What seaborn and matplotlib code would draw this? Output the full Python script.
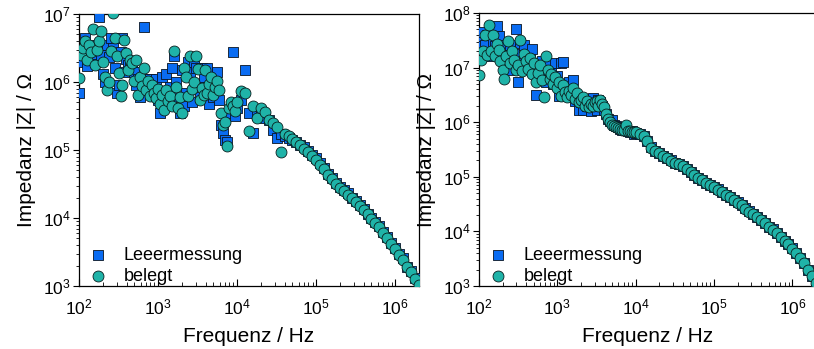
import matplotlib
matplotlib.use("Agg")
import matplotlib.pyplot as plt
import pandas as pd
import seaborn as sns
from matplotlib.ticker import LogLocator, LogFormatterSciNotation, NullFormatter

# Frequency sweep shared by all measurements (Hz)
freq_hz = [
    100, 106, 112, 119, 126, 133, 141, 150, 158, 168,
    178, 188, 200, 211, 224, 237, 251, 266, 282, 299,
    316, 335, 355, 376, 398, 422, 447, 473, 501, 531,
    562, 596, 631, 668, 708, 750, 794, 841, 891, 944,
    1000, 1060, 1120, 1190, 1260, 1330, 1410, 1500, 1580, 1680,
    1780, 1880, 2000, 2110, 2240, 2370, 2510, 2660, 2820, 2990,
    3160, 3350, 3550, 3760, 3980, 4220, 4470, 4730, 5010, 5310,
    5620, 5960, 6310, 6680, 7080, 7500, 7940, 8410, 8910, 9440,
    1.00e4, 1.12e4, 1.26e4, 1.41e4, 1.58e4, 1.78e4, 2.00e4, 2.24e4, 2.51e4, 2.82e4,
    3.16e4, 3.55e4, 3.98e4, 4.47e4, 5.01e4, 5.62e4, 6.31e4, 7.08e4, 7.94e4, 8.91e4,
    1.00e5, 1.12e5, 1.26e5, 1.41e5, 1.58e5, 1.78e5, 2.00e5, 2.24e5, 2.51e5, 2.82e5,
    3.16e5, 3.55e5, 3.98e5, 4.47e5, 5.01e5, 5.62e5, 6.31e5, 7.08e5, 7.94e5, 8.91e5,
    1.00e6, 1.12e6, 1.26e6, 1.41e6, 1.58e6, 1.78e6, 2.00e6,
]

# Left cell: impedance |Z| in Ohm
z_leer_left = [
    7.0e5, 2.0e6, 3.0e6, 4.5e6, 1.7e6, 2.6e6, 3.3e6, 2.2e6, 2.6e6, 3.5e6,
    9.0e6, 2.5e6, 1.3e6, 1.0e6, 3.5e6, 2.3e6, 4.5e6, 3.2e6, 1.6e6, 7.0e5,
    9.0e5, 2.8e6, 4.4e6, 1.4e6, 2.2e6, 1.8e6, 1.6e6, 2.0e6, 1.4e6, 9.0e5,
    1.1e6, 6.0e5, 1.1e6, 6.5e6, 1.1e6, 8.0e5, 1.1e6, 6.5e5, 1.0e6, 1.1e6,
    5.5e5, 3.5e5, 1.2e6, 7.0e5, 1.3e6, 5.0e5, 8.5e5, 1.6e6, 2.4e6, 1.0e6,
    6.0e5, 3.5e5, 1.5e6, 4.5e5, 7.0e5, 2.0e6, 1.4e6, 5.0e5, 2.0e6, 1.6e6,
    9.0e5, 6.0e5, 1.6e6, 1.2e6, 7.0e5, 1.6e6, 4.8e5, 9.0e5, 6.0e5, 1.0e6,
    1.4e6, 5.5e5, 2.3e5, 1.8e5, 1.4e5, 1.3e5, 3.5e5, 4.5e5, 2.8e6, 3.2e5,
    4.2e5, 5.5e5, 1.5e6, 3.5e5, 1.8e5, 3.3e5, 3.4e5, 3.0e5, 2.8e5, 2.0e5,
    1.5e5, 1.7e5, 1.6e5, 1.5e5, 1.4e5, 1.3e5, 1.2e5, 1.1e5, 9.8e4, 8.5e4,
    7.5e4, 6.4e4, 5.5e4, 4.5e4, 3.9e4, 3.3e4, 2.9e4, 2.6e4, 2.3e4, 2.0e4,
    1.75e4, 1.55e4, 1.35e4, 1.15e4, 1.0e4, 8.7e3, 7.5e3, 6.2e3, 5.2e3, 4.3e3,
    3.6e3, 3.0e3, 2.6e3, 1.9e3, 1.65e3, 1.3e3, 1.1e3,
]
z_beleg_left = [
    1.15e6, 2.5e6, 3.2e6, 4.0e6, 2.1e6, 3.5e6, 2.8e6, 6.0e6, 1.8e6, 3.0e6,
    4.0e6, 5.6e6, 2.0e6, 1.2e6, 7.5e5, 1.0e6, 2.9e6, 1.05e7, 4.5e6, 2.4e6,
    1.35e6, 6.3e5, 9.0e5, 4.2e6, 2.7e6, 1.5e6, 2.1e6, 1.9e6, 1.05e6, 2.1e6,
    6.5e5, 1.2e6, 8.8e5, 1.6e6, 7.5e5, 1.05e6, 6.2e5, 9.0e5, 7.0e5, 5.8e5,
    8.0e5, 4.8e5, 6.5e5, 3.9e5, 7.5e5, 5.2e5, 6.2e5, 4.5e5, 2.9e6, 8.5e5,
    4.2e5, 6.0e5, 3.5e5, 1.6e6, 1.2e6, 6.2e5, 2.4e6, 8.0e5, 1.0e6, 2.4e6,
    1.55e6, 5.5e5, 8.2e5, 6.5e5, 1.5e6, 7.0e5, 9.5e5, 1.2e6, 6.5e5, 8.5e5,
    1.05e6, 7.5e5, 3.5e5, 2.3e5, 2.6e5, 1.15e5, 4.2e5, 5.0e5, 4.5e5, 3.8e5,
    5.0e5, 7.3e5, 7.0e5, 1.9e5, 4.5e5, 3.0e5, 4.2e5, 3.6e5, 2.8e5, 2.5e5,
    2.2e5, 9.3e4, 1.7e5, 1.6e5, 1.45e5, 1.3e5, 1.18e5, 1.05e5, 9.5e4, 8.2e4,
    7.2e4, 6.1e4, 5.3e4, 4.3e4, 3.7e4, 3.2e4, 2.8e4, 2.5e4, 2.2e4, 1.95e4,
    1.7e4, 1.5e4, 1.3e4, 1.13e4, 9.8e3, 8.5e3, 7.3e3, 6.1e3, 5.1e3, 4.2e3,
    3.5e3, 2.9e3, 2.4e3, 1.9e3, 1.6e3, 1.25e3, 1.05e3,
]

# Right cell: impedance |Z| in Ohm
z_leer_right = [
    3.5e7, 2.5e7, 4.5e7, 2.6e7, 4.0e7, 1.6e7, 4.5e7, 3.0e7, 2.5e7, 5.9e7,
    3.8e7, 2.0e7, 2.6e7, 1.6e7, 1.0e7, 1.3e7, 2.6e7, 9.0e6, 1.8e7, 5.1e7,
    5.5e6, 2.8e7, 1.2e7, 2.6e7, 1.6e7, 1.0e7, 1.7e7, 2.2e7, 8.0e6, 3.2e6,
    1.1e7, 6.5e6, 1.3e7, 8.5e6, 5.5e6, 1.1e7, 7.0e6, 8.0e6, 5.0e6, 1.2e7,
    7.0e6, 3.0e6, 1.2e7, 1.25e7, 4.5e6, 3.3e6, 5.5e6, 4.0e6, 6.0e6, 2.4e6,
    2.8e6, 1.7e6, 2.3e6, 1.7e6, 2.6e6, 2.0e6, 2.7e6, 1.6e6, 2.8e6, 2.2e6,
    1.7e6, 2.5e6, 2.3e6, 2.0e6, 1.7e6, 1.4e6, 1.15e6, 1.05e6, 1.1e6, 9.0e5,
    8.6e5, 8.0e5, 7.6e5, 7.2e5, 7.5e5, 7.1e5, 7.0e5, 6.6e5, 6.8e5, 6.2e5,
    6.4e5, 6.1e5, 5.6e5, 4.6e5, 3.5e5, 3.0e5, 2.7e5, 2.45e5, 2.2e5, 2.0e5,
    1.8e5, 1.7e5, 1.55e5, 1.4e5, 1.23e5, 1.1e5, 9.7e4, 8.7e4, 7.8e4, 7.1e4,
    6.6e4, 5.9e4, 5.3e4, 4.7e4, 4.2e4, 3.8e4, 3.4e4, 3.0e4, 2.65e4, 2.35e4,
    2.1e4, 1.85e4, 1.6e4, 1.42e4, 1.22e4, 1.1e4, 9.3e3, 7.9e3, 6.7e3, 5.8e3,
    4.9e3, 4.0e3, 3.3e3, 2.6e3, 2.0e3, 1.5e3, 1.15e3,
]
z_beleg_right = [
    7.2e6, 1.4e7, 2.0e7, 4.0e7, 1.7e7, 6.0e7, 2.0e7, 4.0e7, 1.6e7, 2.7e7,
    2.1e7, 1.3e7, 9.0e6, 6.3e6, 1.6e7, 3.1e7, 1.2e7, 2.0e7, 1.4e7, 9.0e6,
    1.1e7, 3.2e7, 8.5e6, 1.8e7, 1.3e7, 9.5e6, 1.5e7, 7.5e6, 1.2e7, 5.5e6,
    8.0e6, 1.1e7, 6.0e6, 2.9e6, 1.6e7, 9.0e6, 6.2e6, 7.5e6, 5.0e6, 6.8e6,
    4.2e6, 5.5e6, 3.0e6, 4.8e6, 3.6e6, 2.9e6, 3.8e6, 3.2e6, 4.2e6, 2.7e6,
    3.4e6, 2.3e6, 2.6e6, 2.9e6, 2.0e6, 2.4e6, 1.9e6, 2.2e6, 2.0e6, 2.3e6,
    2.4e6, 2.0e6, 2.6e6, 2.2e6, 1.9e6, 1.4e6, 1.15e6, 1.0e6, 9.0e5, 8.5e5,
    8.2e5, 7.8e5, 7.5e5, 7.3e5, 7.2e5, 9.0e5, 7.0e5, 6.8e5, 6.7e5, 6.6e5,
    6.5e5, 6.0e5, 5.5e5, 4.5e5, 3.4e5, 3.0e5, 2.7e5, 2.4e5, 2.2e5, 1.95e5,
    1.8e5, 1.68e5, 1.55e5, 1.38e5, 1.22e5, 1.08e5, 9.6e4, 8.6e4, 7.7e4, 7.1e4,
    6.5e4, 5.8e4, 5.2e4, 4.7e4, 4.2e4, 3.8e4, 3.3e4, 3.0e4, 2.6e4, 2.3e4,
    2.05e4, 1.8e4, 1.6e4, 1.4e4, 1.2e4, 1.08e4, 9.2e3, 7.8e3, 6.6e3, 5.8e3,
    4.8e3, 4.0e3, 3.2e3, 2.6e3, 2.0e3, 1.5e3, 1.15e3,
]

series_names = ["Leeermessung", "belegt"]
x_ticks = [1e2, 1e3, 1e4, 1e5, 1e6]

sns.set_style("ticks")
plt.rcParams["font.family"] = ["Liberation Sans", "DejaVu Sans"]
plt.rcParams["mathtext.fontset"] = "custom"
plt.rcParams["mathtext.rm"] = "Liberation Sans"
plt.rcParams["mathtext.it"] = "Liberation Sans:italic"
plt.rcParams["mathtext.bf"] = "Liberation Sans:bold"
for key in ("text.color", "axes.labelcolor", "xtick.color", "ytick.color", "axes.edgecolor"):
    plt.rcParams[key] = "black"

W, H = 814, 349
fig = plt.figure(figsize=(W / 100, H / 100), dpi=100)

def px_axes(left, top, width, height):
    return fig.add_axes([left / W, (H - top - height) / H, width / W, height / H])

ax_left = px_axes(79, 14, 340, 272)
ax_right = px_axes(479, 13, 337, 273)

panels = [
    (ax_left, z_leer_left, z_beleg_left, (1e3, 1e7)),
    (ax_right, z_leer_right, z_beleg_right, (1e3, 1e8)),
]

for ax, z_leer, z_beleg, ylim in panels:
    df = pd.DataFrame({"f": freq_hz, "leer": z_leer, "beleg": z_beleg})
    sns.scatterplot(data=df, x="f", y="leer", ax=ax, marker="s", s=42,
                    color="#0a6cf2", edgecolor="#0a1422", linewidth=0.6,
                    label=series_names[0], zorder=3, clip_on=True)
    sns.scatterplot(data=df, x="f", y="beleg", ax=ax, marker="o", s=62,
                    color="#1fb3a8", edgecolor="#0a1f1e", linewidth=0.6,
                    label=series_names[1], zorder=4, clip_on=True)
    ax.set_xscale("log")
    ax.set_yscale("log")
    ax.set_xlim(100, 2.0e6)
    ax.set_ylim(*ylim)
    ax.set_xticks(x_ticks)
    ax.xaxis.set_minor_locator(LogLocator(base=10, subs=range(2, 10), numticks=20))
    ax.yaxis.set_major_locator(LogLocator(base=10, numticks=12))
    ax.yaxis.set_minor_locator(LogLocator(base=10, subs=range(2, 10), numticks=20))
    ax.xaxis.set_major_formatter(LogFormatterSciNotation())
    ax.yaxis.set_major_formatter(LogFormatterSciNotation())
    ax.xaxis.set_minor_formatter(NullFormatter())
    ax.yaxis.set_minor_formatter(NullFormatter())
    ax.tick_params(axis="x", which="major", direction="in", length=5, width=0.8,
                   labelsize=12.5, pad=8, top=False, colors="black")
    ax.tick_params(axis="x", which="minor", direction="in", length=3, width=0.6, top=False)
    ax.tick_params(axis="y", which="major", direction="out", length=4, width=0.8,
                   labelsize=12.5, pad=2, right=False, colors="black")
    ax.tick_params(axis="y", which="minor", direction="out", length=2.5, width=0.6, right=False)
    for sp in ax.spines.values():
        sp.set_visible(True)
        sp.set_linewidth(0.9)
        sp.set_color("black")
    ax.set_xlabel("Frequenz / Hz", fontsize=15, labelpad=7, color="black")
    ax.set_ylabel("Impedanz |Z| / \u03a9", fontsize=15, labelpad=5, color="black")
    ax.legend(loc="lower left", bbox_to_anchor=(0.02, -0.01), frameon=False,
              fontsize=13, handlelength=1.0, handletextpad=0.9,
              labelspacing=0.25, borderaxespad=0.0, borderpad=0.2)

fig.savefig("out.png", dpi=100)
